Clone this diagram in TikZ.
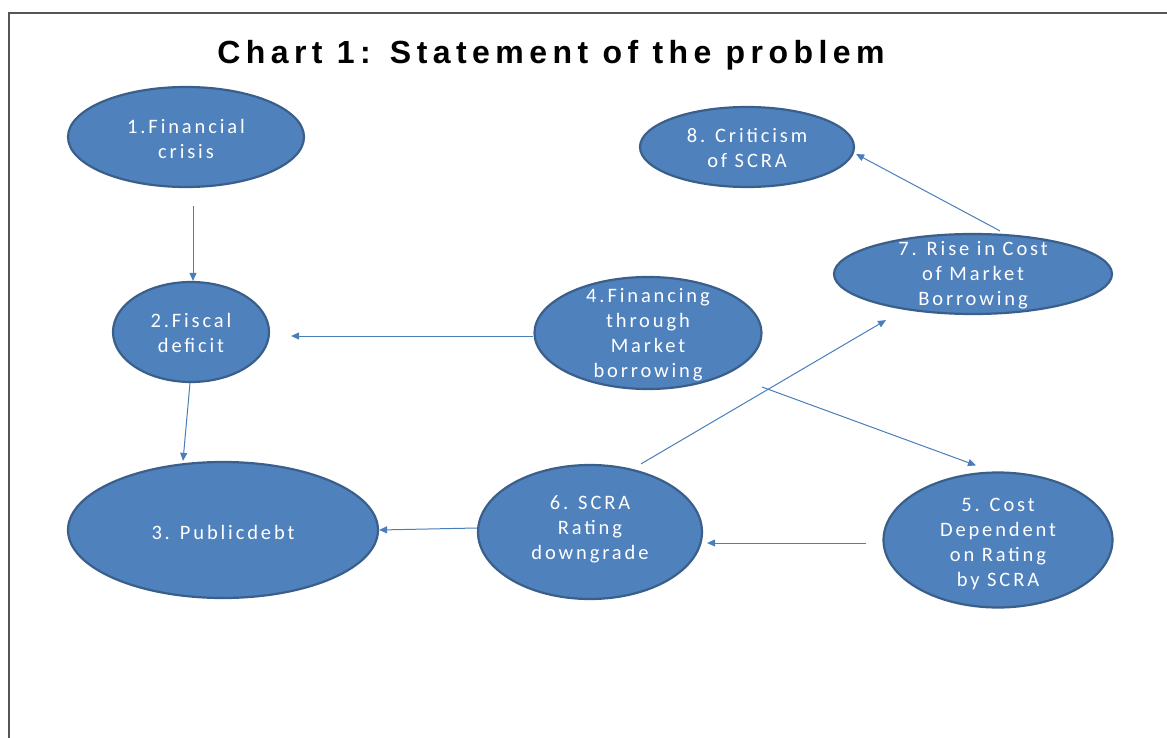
\documentclass[tikz,border=0pt]{standalone}
\usepackage{fontspec}
\setmainfont{Carlito}
\newfontfamily\titlefont[LetterSpace=17]{Liberation Sans}
\newfontfamily\nodefont[LetterSpace=14]{Carlito}
\usetikzlibrary{shapes.geometric,arrows.meta}
\definecolor{fillblue}{HTML}{4F81BD}
\definecolor{edgeblue}{HTML}{3A5F8B}
\definecolor{lineblue}{HTML}{4A7EBB}
\definecolor{framegray}{HTML}{555555}
\begin{document}
\begin{tikzpicture}[x=1pt,y=-1pt,
  bub/.style={ellipse, draw=edgeblue, line width=2.2pt, fill=fillblue, inner sep=0pt},
  txt/.style={text=white, align=center, inner sep=0pt, font=\nodefont\fontsize{20.5}{25}\selectfont},
  arr/.style={draw=lineblue, line width=1pt, -{Triangle[length=8pt,width=7pt]}},
  ttl/.style={font=\titlefont\bfseries\fontsize{32}{36}\selectfont, anchor=base, inner sep=0pt}]
\useasboundingbox (0,0) rectangle (1167,738);
\draw[framegray, line width=1.5pt] (9,738) -- (9,13) -- (1167,13);

\node[ttl] (title) at (551,64) {Chart 1: Statement of the problem};

\node[bub, minimum width=236pt, minimum height=100pt] (n1) at (186,137) {};
\node[txt] (t1) at ([yshift=-2pt]n1.center) {1.Financial\\crisis};
\node[bub, minimum width=156pt, minimum height=100pt] (n2) at (191,332) {};
\node[txt] (t2) at ([yshift=-1pt]n2.center) {2.Fiscal\\deficit};
\node[bub, minimum width=310pt, minimum height=136pt] (n3) at (223,530) {};
\node[txt] (t3) at ([yshift=-2pt]n3.center) {3. Publicdebt};
\node[bub, minimum width=227pt, minimum height=112pt] (n4) at (648,333) {};
\node[txt] (t4) at ([yshift=-2pt]n4.center) {4.Financing\\through\\Market\\borrowing};
\node[bub, minimum width=229pt, minimum height=135pt] (n5) at (998,540) {};
\node[txt] (t5) at ([yshift=-4pt]n5.center) {5. Cost\\Dependent\\on Rating\\by SCRA};
\node[bub, minimum width=224pt, minimum height=134pt] (n6) at (590,532) {};
\node[txt] (t6) at ([yshift=3pt]n6.center) {6. SCRA\\Rating\\downgrade};
\node[bub, minimum width=278pt, minimum height=80pt] (n7) at (973,274) {};
\node[txt] (t7) at ([yshift=-1pt]n7.center) {7. Rise in Cost\\of Market\\Borrowing};
\node[bub, minimum width=214pt, minimum height=80pt] (n8) at (747,147) {};
\node[txt] (t8) at ([yshift=-1pt]n8.center) {8. Criticism\\of SCRA};

\draw[arr] ([xshift=7pt,yshift=-18pt]n1.south) -- ([xshift=2pt]n2.north);
\draw[arr] ([xshift=-1pt]n2.south) -- ([xshift=-40pt]n3.north);
\draw[arr] ([yshift=-3pt]n4.west) -- ([xshift=21pt,yshift=-4pt]n2.east);
\draw[arr] ([yshift=4pt]n6.west) -- (n3.east);
\draw[arr] ([xshift=-16pt,yshift=-3pt]n5.west) -- ([xshift=4pt,yshift=-11pt]n6.east);
\draw[arr] ([xshift=51pt]n6.north) -- ([xshift=-87pt,yshift=-5pt]n7.south);
\draw[arr] ([xshift=114pt,yshift=-54pt]n4.center) -- ([xshift=-22pt,yshift=6pt]n5.north);
\draw[arr] ([xshift=27pt,yshift=2pt]n7.north) -- ([xshift=1pt,yshift=-7pt]n8.east);
\end{tikzpicture}
\end{document}
